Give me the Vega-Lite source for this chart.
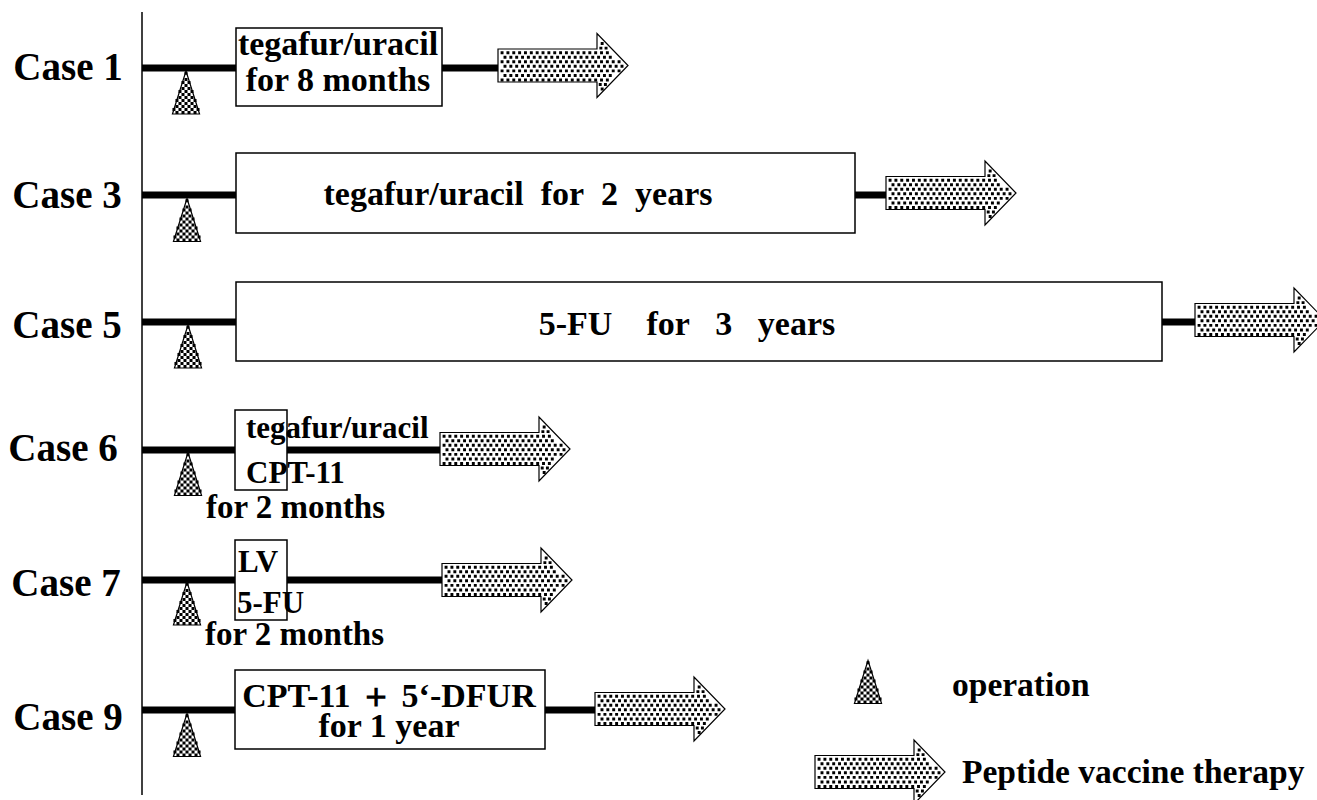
{
  "$schema": "https://vega.github.io/schema/vega-lite/v6.json",
  "width": 1317,
  "height": 800,
  "padding": 0,
  "autosize": {"type": "none"},
  "background": "white",
  "config": {"view": {"stroke": null}, "font": "Liberation Serif"},
  "datasets": {
    "axisLine": [{"x": 142, "y": 12, "y2": 795}],
    "timelines": [
      {"case": "Case 1", "x": 142, "x2": 500, "y": 68},
      {"case": "Case 3", "x": 142, "x2": 888, "y": 195},
      {"case": "Case 5", "x": 142, "x2": 1197, "y": 322},
      {"case": "Case 6", "x": 142, "x2": 443, "y": 450},
      {"case": "Case 7", "x": 142, "x2": 444, "y": 580},
      {"case": "Case 9", "x": 142, "x2": 596, "y": 710}
    ],
    "boxes": [
      {"case": "Case 1", "x": 236, "x2": 442, "y": 28, "y2": 106},
      {"case": "Case 3", "x": 236, "x2": 855, "y": 153, "y2": 233},
      {"case": "Case 5", "x": 236, "x2": 1162, "y": 282, "y2": 361},
      {"case": "Case 6", "x": 235, "x2": 287, "y": 410, "y2": 490},
      {"case": "Case 7", "x": 235, "x2": 287, "y": 540, "y2": 620},
      {"case": "Case 9", "x": 235, "x2": 545, "y": 670, "y2": 749}
    ],
    "operations": [
      {"case": "Case 1", "x": 186, "y": 92.5},
      {"case": "Case 3", "x": 187, "y": 220},
      {"case": "Case 5", "x": 188, "y": 346.5},
      {"case": "Case 6", "x": 188, "y": 474},
      {"case": "Case 7", "x": 187, "y": 603.5},
      {"case": "Case 9", "x": 187, "y": 735},
      {"case": "legend", "x": 868, "y": 682}
    ],
    "vaccines": [
      {"case": "Case 1", "x": 563, "y": 65.5},
      {"case": "Case 3", "x": 951, "y": 193},
      {"case": "Case 5", "x": 1260, "y": 320},
      {"case": "Case 6", "x": 505, "y": 449},
      {"case": "Case 7", "x": 507, "y": 580},
      {"case": "Case 9", "x": 660, "y": 709},
      {"case": "legend", "x": 880, "y": 772}
    ],
    "labels": [
      {"label": "Case 1", "x": 68, "y": 80},
      {"label": "Case 3", "x": 67, "y": 208},
      {"label": "Case 5", "x": 67, "y": 338},
      {"label": "Case 6", "x": 63, "y": 461},
      {"label": "Case 7", "x": 66, "y": 596},
      {"label": "Case 9", "x": 68, "y": 730}
    ],
    "boxText": [
      {"text": "tegafur/uracil", "x": 338, "y": 55},
      {"text": "for 8 months", "x": 338, "y": 91},
      {"text": "tegafur/uracil\u00a0\u00a0for\u00a0\u00a02\u00a0\u00a0years", "x": 518, "y": 205},
      {"text": "5-FU\u00a0\u00a0\u00a0\u00a0for\u00a0\u00a0\u00a03\u00a0\u00a0\u00a0years", "x": 687, "y": 335},
      {"text": "CPT-11 ＋ 5‘-DFUR", "x": 389, "y": 707},
      {"text": "for 1 year", "x": 389, "y": 737}
    ],
    "drugText": [
      {"text": "tegafur/uracil", "x": 246, "y": 438},
      {"text": "CPT-11", "x": 246, "y": 483},
      {"text": "LV", "x": 238, "y": 572},
      {"text": "5-FU", "x": 237, "y": 613}
    ],
    "durationText": [
      {"text": "for 2 months", "x": 206, "y": 518},
      {"text": "for 2 months", "x": 205, "y": 645}
    ],
    "legendText": [
      {"text": "operation", "x": 952, "y": 696},
      {"text": "Peptide vaccine therapy", "x": 962, "y": 783}
    ]
  },
  "layer": [
    {
      "data": {"name": "axisLine"},
      "mark": {"type": "rule", "stroke": "black", "strokeWidth": 1.5},
      "encoding": {
        "x": {"field": "x", "type": "quantitative", "scale": {"domain": [0, 1317], "nice": false, "zero": false}, "axis": null},
        "y": {"field": "y", "type": "quantitative", "scale": {"domain": [0, 800], "nice": false, "zero": false, "reverse": true}, "axis": null},
        "y2": {"field": "y2"}
      }
    },
    {
      "data": {"name": "timelines"},
      "mark": {"type": "rule", "stroke": "black", "strokeWidth": 7, "strokeCap": "butt"},
      "encoding": {
        "x": {"field": "x", "type": "quantitative", "scale": {"domain": [0, 1317], "nice": false, "zero": false}, "axis": null},
        "x2": {"field": "x2"},
        "y": {"field": "y", "type": "quantitative", "scale": {"domain": [0, 800], "nice": false, "zero": false, "reverse": true}, "axis": null}
      }
    },
    {
      "data": {"name": "boxes"},
      "mark": {"type": "rect", "fill": "white", "stroke": "black", "strokeWidth": 1.5},
      "encoding": {
        "x": {"field": "x", "type": "quantitative", "scale": {"domain": [0, 1317], "nice": false, "zero": false}, "axis": null},
        "x2": {"field": "x2"},
        "y": {"field": "y", "type": "quantitative", "scale": {"domain": [0, 800], "nice": false, "zero": false, "reverse": true}, "axis": null},
        "y2": {"field": "y2"}
      }
    },
    {
      "data": {"name": "operations"},
      "mark": {"type": "point", "shape": "M0,-1L0.63,1L-0.63,1Z", "size": 1849, "filled": true, "fill": "white", "stroke": "black", "strokeWidth": 1.2, "opacity": 1},
      "encoding": {
        "x": {"field": "x", "type": "quantitative", "scale": {"domain": [0, 1317], "nice": false, "zero": false}, "axis": null},
        "y": {"field": "y", "type": "quantitative", "scale": {"domain": [0, 800], "nice": false, "zero": false, "reverse": true}, "axis": null}
      }
    },
    {
      "data": {"name": "operations"},
      "mark": {"type": "point", "shape": "M-0.07,-0.96h0.14v0.14h-0.14zM-0.07,-0.68h0.14v0.14h-0.14zM-0.21,-0.54h0.14v0.14h-0.14zM0.07,-0.54h0.14v0.14h-0.14zM-0.07,-0.4h0.14v0.14h-0.14zM-0.21,-0.26h0.14v0.14h-0.14zM0.07,-0.26h0.14v0.14h-0.14zM-0.35,-0.12h0.14v0.14h-0.14zM-0.07,-0.12h0.14v0.14h-0.14zM0.21,-0.12h0.14v0.14h-0.14zM-0.21,0.02h0.14v0.14h-0.14zM0.07,0.02h0.14v0.14h-0.14zM-0.35,0.16h0.14v0.14h-0.14zM-0.07,0.16h0.14v0.14h-0.14zM0.21,0.16h0.14v0.14h-0.14zM-0.49,0.3h0.14v0.14h-0.14zM-0.21,0.3h0.14v0.14h-0.14zM0.07,0.3h0.14v0.14h-0.14zM0.35,0.3h0.14v0.14h-0.14zM-0.35,0.44h0.14v0.14h-0.14zM-0.07,0.44h0.14v0.14h-0.14zM0.21,0.44h0.14v0.14h-0.14zM-0.49,0.58h0.14v0.14h-0.14zM-0.21,0.58h0.14v0.14h-0.14zM0.07,0.58h0.14v0.14h-0.14zM0.35,0.58h0.14v0.14h-0.14zM-0.63,0.72h0.14v0.14h-0.14zM-0.35,0.72h0.14v0.14h-0.14zM-0.07,0.72h0.14v0.14h-0.14zM0.21,0.72h0.14v0.14h-0.14zM0.49,0.72h0.14v0.14h-0.14zM-0.49,0.86h0.14v0.14h-0.14zM-0.21,0.86h0.14v0.14h-0.14zM0.07,0.86h0.14v0.14h-0.14zM0.35,0.86h0.14v0.14h-0.14z", "size": 1849, "filled": true, "fill": "black", "strokeWidth": 0, "opacity": 1},
      "encoding": {
        "x": {"field": "x", "type": "quantitative", "scale": {"domain": [0, 1317], "nice": false, "zero": false}, "axis": null},
        "y": {"field": "y", "type": "quantitative", "scale": {"domain": [0, 800], "nice": false, "zero": false, "reverse": true}, "axis": null}
      }
    },
    {
      "data": {"name": "vaccines"},
      "mark": {"type": "point", "shape": "M-1,-0.254L0.523,-0.254L0.523,-0.492L1,0L0.523,0.492L0.523,0.254L-1,0.254Z", "size": 16900, "filled": true, "fill": "white", "stroke": "black", "strokeWidth": 1.2, "opacity": 1},
      "encoding": {
        "x": {"field": "x", "type": "quantitative", "scale": {"domain": [0, 1317], "nice": false, "zero": false}, "axis": null},
        "y": {"field": "y", "type": "quantitative", "scale": {"domain": [0, 800], "nice": false, "zero": false, "reverse": true}, "axis": null}
      }
    },
    {
      "data": {"name": "vaccines"},
      "mark": {"type": "point", "shape": "M-0.96,-0.22h0.045v0.045h-0.045zM-0.87,-0.22h0.045v0.045h-0.045zM-0.78,-0.22h0.045v0.045h-0.045zM-0.69,-0.22h0.045v0.045h-0.045zM-0.6,-0.22h0.045v0.045h-0.045zM-0.51,-0.22h0.045v0.045h-0.045zM-0.42,-0.22h0.045v0.045h-0.045zM-0.33,-0.22h0.045v0.045h-0.045zM-0.24,-0.22h0.045v0.045h-0.045zM-0.15,-0.22h0.045v0.045h-0.045zM-0.06,-0.22h0.045v0.045h-0.045zM0.03,-0.22h0.045v0.045h-0.045zM0.12,-0.22h0.045v0.045h-0.045zM0.21,-0.22h0.045v0.045h-0.045zM0.3,-0.22h0.045v0.045h-0.045zM0.39,-0.22h0.045v0.045h-0.045zM0.48,-0.22h0.045v0.045h-0.045zM0.57,-0.22h0.045v0.045h-0.045zM0.66,-0.22h0.045v0.045h-0.045zM-0.915,-0.15h0.045v0.045h-0.045zM-0.825,-0.15h0.045v0.045h-0.045zM-0.735,-0.15h0.045v0.045h-0.045zM-0.645,-0.15h0.045v0.045h-0.045zM-0.555,-0.15h0.045v0.045h-0.045zM-0.465,-0.15h0.045v0.045h-0.045zM-0.375,-0.15h0.045v0.045h-0.045zM-0.285,-0.15h0.045v0.045h-0.045zM-0.195,-0.15h0.045v0.045h-0.045zM-0.105,-0.15h0.045v0.045h-0.045zM-0.015,-0.15h0.045v0.045h-0.045zM0.075,-0.15h0.045v0.045h-0.045zM0.165,-0.15h0.045v0.045h-0.045zM0.255,-0.15h0.045v0.045h-0.045zM0.345,-0.15h0.045v0.045h-0.045zM0.435,-0.15h0.045v0.045h-0.045zM0.525,-0.15h0.045v0.045h-0.045zM0.615,-0.15h0.045v0.045h-0.045zM0.705,-0.15h0.045v0.045h-0.045zM-0.96,-0.08h0.045v0.045h-0.045zM-0.87,-0.08h0.045v0.045h-0.045zM-0.78,-0.08h0.045v0.045h-0.045zM-0.69,-0.08h0.045v0.045h-0.045zM-0.6,-0.08h0.045v0.045h-0.045zM-0.51,-0.08h0.045v0.045h-0.045zM-0.42,-0.08h0.045v0.045h-0.045zM-0.33,-0.08h0.045v0.045h-0.045zM-0.24,-0.08h0.045v0.045h-0.045zM-0.15,-0.08h0.045v0.045h-0.045zM-0.06,-0.08h0.045v0.045h-0.045zM0.03,-0.08h0.045v0.045h-0.045zM0.12,-0.08h0.045v0.045h-0.045zM0.21,-0.08h0.045v0.045h-0.045zM0.3,-0.08h0.045v0.045h-0.045zM0.39,-0.08h0.045v0.045h-0.045zM0.48,-0.08h0.045v0.045h-0.045zM0.57,-0.08h0.045v0.045h-0.045zM0.66,-0.08h0.045v0.045h-0.045zM0.75,-0.08h0.045v0.045h-0.045zM0.84,-0.08h0.045v0.045h-0.045zM-0.915,-0.01h0.045v0.045h-0.045zM-0.825,-0.01h0.045v0.045h-0.045zM-0.735,-0.01h0.045v0.045h-0.045zM-0.645,-0.01h0.045v0.045h-0.045zM-0.555,-0.01h0.045v0.045h-0.045zM-0.465,-0.01h0.045v0.045h-0.045zM-0.375,-0.01h0.045v0.045h-0.045zM-0.285,-0.01h0.045v0.045h-0.045zM-0.195,-0.01h0.045v0.045h-0.045zM-0.105,-0.01h0.045v0.045h-0.045zM-0.015,-0.01h0.045v0.045h-0.045zM0.075,-0.01h0.045v0.045h-0.045zM0.165,-0.01h0.045v0.045h-0.045zM0.255,-0.01h0.045v0.045h-0.045zM0.345,-0.01h0.045v0.045h-0.045zM0.435,-0.01h0.045v0.045h-0.045zM0.525,-0.01h0.045v0.045h-0.045zM0.615,-0.01h0.045v0.045h-0.045zM0.705,-0.01h0.045v0.045h-0.045zM0.795,-0.01h0.045v0.045h-0.045zM0.885,-0.01h0.045v0.045h-0.045zM-0.96,0.06h0.045v0.045h-0.045zM-0.87,0.06h0.045v0.045h-0.045zM-0.78,0.06h0.045v0.045h-0.045zM-0.69,0.06h0.045v0.045h-0.045zM-0.6,0.06h0.045v0.045h-0.045zM-0.51,0.06h0.045v0.045h-0.045zM-0.42,0.06h0.045v0.045h-0.045zM-0.33,0.06h0.045v0.045h-0.045zM-0.24,0.06h0.045v0.045h-0.045zM-0.15,0.06h0.045v0.045h-0.045zM-0.06,0.06h0.045v0.045h-0.045zM0.03,0.06h0.045v0.045h-0.045zM0.12,0.06h0.045v0.045h-0.045zM0.21,0.06h0.045v0.045h-0.045zM0.3,0.06h0.045v0.045h-0.045zM0.39,0.06h0.045v0.045h-0.045zM0.48,0.06h0.045v0.045h-0.045zM0.57,0.06h0.045v0.045h-0.045zM0.66,0.06h0.045v0.045h-0.045zM0.75,0.06h0.045v0.045h-0.045zM0.84,0.06h0.045v0.045h-0.045zM-0.915,0.13h0.045v0.045h-0.045zM-0.825,0.13h0.045v0.045h-0.045zM-0.735,0.13h0.045v0.045h-0.045zM-0.645,0.13h0.045v0.045h-0.045zM-0.555,0.13h0.045v0.045h-0.045zM-0.465,0.13h0.045v0.045h-0.045zM-0.375,0.13h0.045v0.045h-0.045zM-0.285,0.13h0.045v0.045h-0.045zM-0.195,0.13h0.045v0.045h-0.045zM-0.105,0.13h0.045v0.045h-0.045zM-0.015,0.13h0.045v0.045h-0.045zM0.075,0.13h0.045v0.045h-0.045zM0.165,0.13h0.045v0.045h-0.045zM0.255,0.13h0.045v0.045h-0.045zM0.345,0.13h0.045v0.045h-0.045zM0.435,0.13h0.045v0.045h-0.045zM0.525,0.13h0.045v0.045h-0.045zM0.615,0.13h0.045v0.045h-0.045zM0.705,0.13h0.045v0.045h-0.045zM-0.96,0.2h0.045v0.045h-0.045zM-0.87,0.2h0.045v0.045h-0.045zM-0.78,0.2h0.045v0.045h-0.045zM-0.69,0.2h0.045v0.045h-0.045zM-0.6,0.2h0.045v0.045h-0.045zM-0.51,0.2h0.045v0.045h-0.045zM-0.42,0.2h0.045v0.045h-0.045zM-0.33,0.2h0.045v0.045h-0.045zM-0.24,0.2h0.045v0.045h-0.045zM-0.15,0.2h0.045v0.045h-0.045zM-0.06,0.2h0.045v0.045h-0.045zM0.03,0.2h0.045v0.045h-0.045zM0.12,0.2h0.045v0.045h-0.045zM0.21,0.2h0.045v0.045h-0.045zM0.3,0.2h0.045v0.045h-0.045zM0.39,0.2h0.045v0.045h-0.045zM0.48,0.2h0.045v0.045h-0.045zM0.57,0.2h0.045v0.045h-0.045zM0.66,0.2h0.045v0.045h-0.045zM0.56,-0.29h0.045v0.045h-0.045zM0.64,-0.29h0.045v0.045h-0.045zM0.58,-0.36h0.045v0.045h-0.045zM0.55,0.27h0.045v0.045h-0.045zM0.63,0.27h0.045v0.045h-0.045zM0.58,0.34h0.045v0.045h-0.045z", "size": 16900, "filled": true, "fill": "black", "strokeWidth": 0, "opacity": 1},
      "encoding": {
        "x": {"field": "x", "type": "quantitative", "scale": {"domain": [0, 1317], "nice": false, "zero": false}, "axis": null},
        "y": {"field": "y", "type": "quantitative", "scale": {"domain": [0, 800], "nice": false, "zero": false, "reverse": true}, "axis": null}
      }
    },
    {
      "data": {"name": "labels"},
      "mark": {"type": "text", "font": "Liberation Serif", "fontWeight": "bold", "fontSize": 39, "align": "center", "baseline": "alphabetic", "color": "black"},
      "encoding": {
        "x": {"field": "x", "type": "quantitative", "scale": {"domain": [0, 1317], "nice": false, "zero": false}, "axis": null},
        "y": {"field": "y", "type": "quantitative", "scale": {"domain": [0, 800], "nice": false, "zero": false, "reverse": true}, "axis": null},
        "text": {"field": "label"}
      }
    },
    {
      "data": {"name": "boxText"},
      "mark": {"type": "text", "font": "Liberation Serif", "fontWeight": "bold", "fontSize": 34, "align": "center", "baseline": "alphabetic", "color": "black"},
      "encoding": {
        "x": {"field": "x", "type": "quantitative", "scale": {"domain": [0, 1317], "nice": false, "zero": false}, "axis": null},
        "y": {"field": "y", "type": "quantitative", "scale": {"domain": [0, 800], "nice": false, "zero": false, "reverse": true}, "axis": null},
        "text": {"field": "text"}
      }
    },
    {
      "data": {"name": "drugText"},
      "mark": {"type": "text", "font": "Liberation Serif", "fontWeight": "bold", "fontSize": 31, "align": "left", "baseline": "alphabetic", "color": "black"},
      "encoding": {
        "x": {"field": "x", "type": "quantitative", "scale": {"domain": [0, 1317], "nice": false, "zero": false}, "axis": null},
        "y": {"field": "y", "type": "quantitative", "scale": {"domain": [0, 800], "nice": false, "zero": false, "reverse": true}, "axis": null},
        "text": {"field": "text"}
      }
    },
    {
      "data": {"name": "durationText"},
      "mark": {"type": "text", "font": "Liberation Serif", "fontWeight": "bold", "fontSize": 33, "align": "left", "baseline": "alphabetic", "color": "black"},
      "encoding": {
        "x": {"field": "x", "type": "quantitative", "scale": {"domain": [0, 1317], "nice": false, "zero": false}, "axis": null},
        "y": {"field": "y", "type": "quantitative", "scale": {"domain": [0, 800], "nice": false, "zero": false, "reverse": true}, "axis": null},
        "text": {"field": "text"}
      }
    },
    {
      "data": {"name": "legendText"},
      "mark": {"type": "text", "font": "Liberation Serif", "fontWeight": "bold", "fontSize": 33.5, "align": "left", "baseline": "alphabetic", "color": "black"},
      "encoding": {
        "x": {"field": "x", "type": "quantitative", "scale": {"domain": [0, 1317], "nice": false, "zero": false}, "axis": null},
        "y": {"field": "y", "type": "quantitative", "scale": {"domain": [0, 800], "nice": false, "zero": false, "reverse": true}, "axis": null},
        "text": {"field": "text"}
      }
    }
  ]
}
